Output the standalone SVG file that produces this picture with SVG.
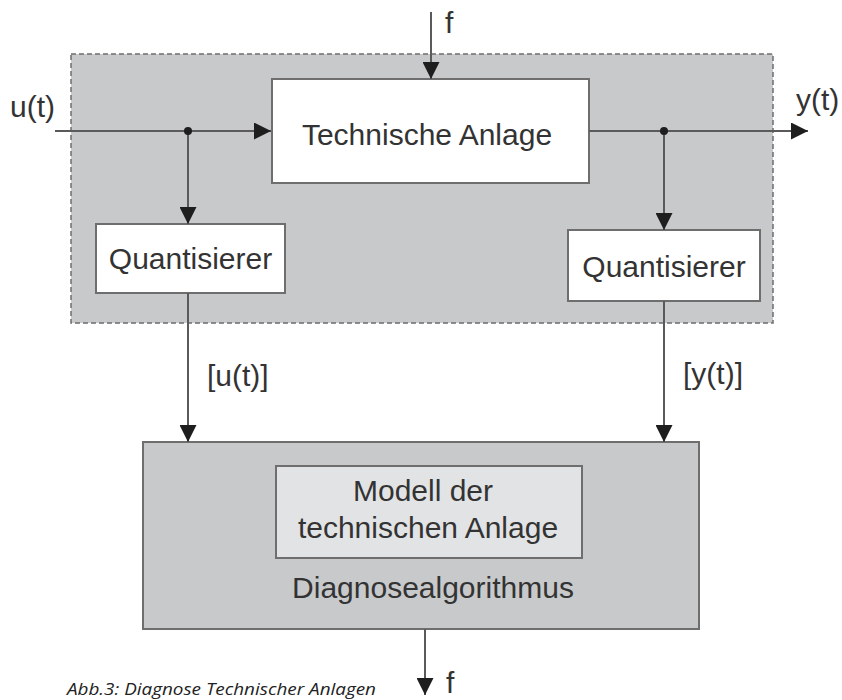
<svg xmlns="http://www.w3.org/2000/svg" width="842" height="700" viewBox="0 0 842 700">
  <style>
    .lbl { font-family: "Liberation Sans", Arial, sans-serif; font-size: 30px; fill: #333333; }
    .mid { text-anchor: middle; }
    .box { stroke: #6e6e6e; stroke-width: 2; }
    .wire { stroke: #5a5a5a; stroke-width: 2; fill: none; }
    .cap { font-family: "Open Sans", "Noto Sans", sans-serif; font-style: italic; font-size: 17px; fill: #222; }
  </style>
  <defs>
    <marker id="arr" markerUnits="userSpaceOnUse" markerWidth="17" markerHeight="17" refX="16" refY="8" orient="auto" viewBox="0 0 16 16">
      <path d="M0,0 L16,8 L0,16 z" fill="#1e1e1e"/>
    </marker>
  </defs>
  <rect width="842" height="700" fill="#ffffff"/>

  <g id="anlage-bereich">
    <rect x="71" y="54" width="702" height="269" fill="#c8c9cb" stroke="#6e6e6e" stroke-width="1.5" stroke-dasharray="5 3"/>
  </g>

  <g id="technische-anlage">
    <rect class="box" x="272" y="79" width="317" height="104" fill="#ffffff"/>
    <text class="lbl mid" x="427" y="145">Technische Anlage</text>
  </g>

  <g id="quantisierer-links">
    <rect class="box" x="96" y="224" width="189" height="69" fill="#ffffff"/>
    <text class="lbl mid" x="190.5" y="269">Quantisierer</text>
  </g>

  <g id="quantisierer-rechts">
    <rect class="box" x="568" y="230" width="192" height="71" fill="#ffffff"/>
    <text class="lbl mid" x="664" y="277">Quantisierer</text>
  </g>

  <g id="diagnosealgorithmus">
    <rect class="box" x="143" y="442" width="556" height="187" fill="#c8c9cb"/>
    <text class="lbl mid" x="433" y="598">Diagnosealgorithmus</text>
  </g>

  <g id="modell">
    <rect class="box" x="276" y="466" width="306" height="92" fill="#e2e3e5"/>
    <text class="lbl mid" x="423" y="501">Modell der</text>
    <text class="lbl mid" x="428" y="538">technischen Anlage</text>
  </g>

  <g id="connectors">
    <line class="wire" x1="55" y1="131" x2="271" y2="131" marker-end="url(#arr)"/>
    <line class="wire" x1="188" y1="131" x2="188" y2="224" marker-end="url(#arr)"/>
    <circle cx="188" cy="131" r="4" fill="#1e1e1e"/>
    <line class="wire" x1="431" y1="12" x2="431" y2="79" marker-end="url(#arr)"/>
    <line class="wire" x1="589" y1="131" x2="808" y2="131" marker-end="url(#arr)"/>
    <line class="wire" x1="664" y1="131" x2="664" y2="230" marker-end="url(#arr)"/>
    <circle cx="664" cy="131" r="4" fill="#1e1e1e"/>
    <line class="wire" x1="188" y1="293" x2="188" y2="442" marker-end="url(#arr)"/>
    <line class="wire" x1="664" y1="301" x2="664" y2="442" marker-end="url(#arr)"/>
    <line class="wire" x1="425" y1="629" x2="425" y2="695" marker-end="url(#arr)"/>
  </g>

  <g id="labels">
    <text class="lbl" x="10" y="117">u(t)</text>
    <text class="lbl" x="796" y="110">y(t)</text>
    <text class="lbl" x="445" y="33">f</text>
    <text class="lbl" x="207" y="386">[u(t)]</text>
    <text class="lbl" x="683" y="384">[y(t)]</text>
    <text class="lbl" x="446" y="693">f</text>
  </g>

  <text class="cap" x="67" y="695" textLength="309" lengthAdjust="spacingAndGlyphs">Abb.3: Diagnose Technischer Anlagen</text>
</svg>
